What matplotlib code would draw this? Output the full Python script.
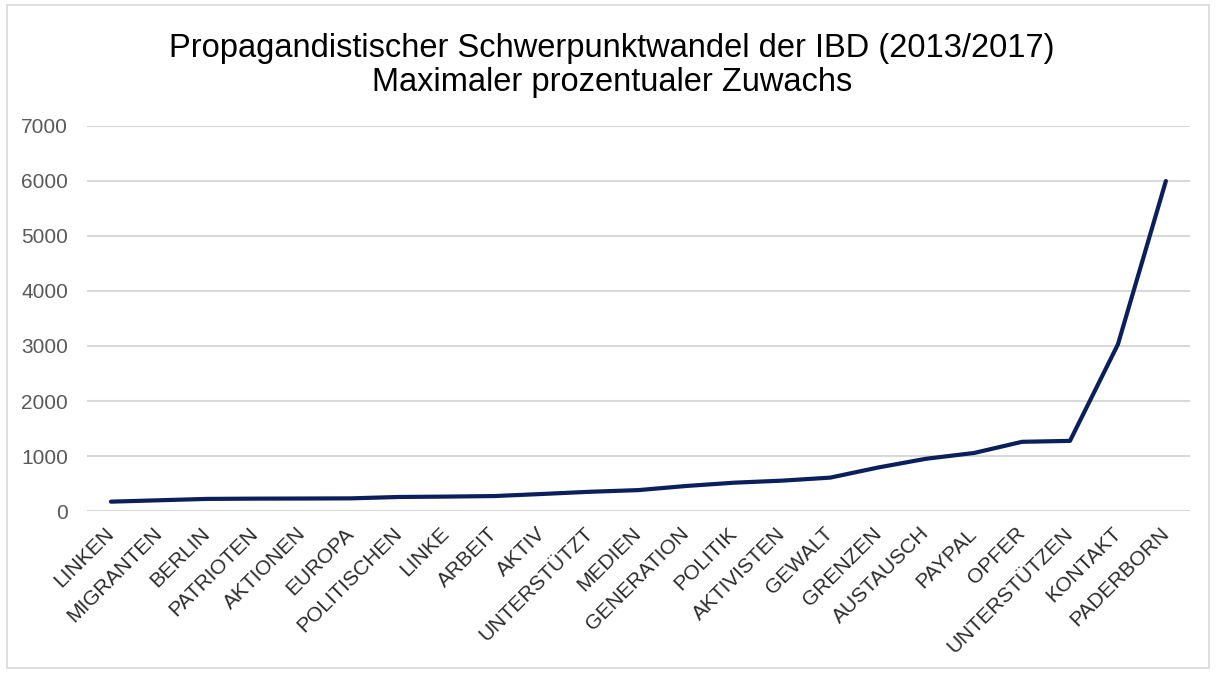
import matplotlib
matplotlib.use("Agg")
import matplotlib.pyplot as plt
from matplotlib.patches import Rectangle

plt.rcParams['font.family'] = ['Liberation Sans', 'DejaVu Sans']

# words and their max. percentage growth
words = ["LINKEN", "MIGRANTEN", "BERLIN", "PATRIOTEN", "AKTIONEN", "EUROPA",
         "POLITISCHEN", "LINKE", "ARBEIT", "AKTIV", "UNTERSTÜTZT", "MEDIEN",
         "GENERATION", "POLITIK", "AKTIVISTEN", "GEWALT", "GRENZEN",
         "AUSTAUSCH", "PAYPAL", "OPFER", "UNTERSTÜTZEN", "KONTAKT", "PADERBORN"]
growth = [170, 195, 220, 225, 227, 230, 255, 262, 272, 310, 350, 380,
          455, 515, 552, 607, 791, 950, 1055, 1258, 1275, 3030, 6000]
y_ticks = [0, 1000, 2000, 3000, 4000, 5000, 6000, 7000]

title_1 = "Propagandistischer Schwerpunktwandel der IBD (2013/2017)"
title_2 = "Maximaler prozentualer Zuwachs"

fig = plt.figure(figsize=(12.16, 6.73), dpi=100)
fig.patch.set_facecolor("white")
# thin frame round the whole picture
fig.patches.append(Rectangle((0.006, 0.007), 0.988, 0.985, transform=fig.transFigure,
                             fill=False, edgecolor="#d9d9d9", linewidth=1.2))

ax = fig.add_axes([0.0715, 0.2407, 0.907, 0.5721])
x = list(range(len(words)))
ax.plot(x, growth, color="#0a1f5c", linewidth=3.0, solid_capstyle="round",
        solid_joinstyle="round", zorder=3)

ax.set_xlim(-0.5, len(words) - 0.5)
ax.set_ylim(0, 7000)
ax.set_yticks(y_ticks)
ax.set_yticklabels([str(v) for v in y_ticks], fontsize=15, color="#595959")
ax.set_xticks(x)
ax.set_xticklabels(words, rotation=45, ha="right", va="center",
                   rotation_mode="anchor", fontsize=15, color="#2b2b2b")
ax.tick_params(axis="both", length=0)
ax.tick_params(axis="y", pad=13.5)
ax.tick_params(axis="x", pad=14)

ax.grid(axis="y", color="#d9d9d9", linewidth=1.5)
ax.set_axisbelow(True)
for s in ax.spines.values():
    s.set_visible(False)

fig.text(0.503, 0.928, title_1, ha="center", va="center", fontsize=23.5, color="#000000")
fig.text(0.503, 0.878, title_2, ha="center", va="center", fontsize=23.5, color="#000000")

fig.savefig("out.png", dpi=100)
